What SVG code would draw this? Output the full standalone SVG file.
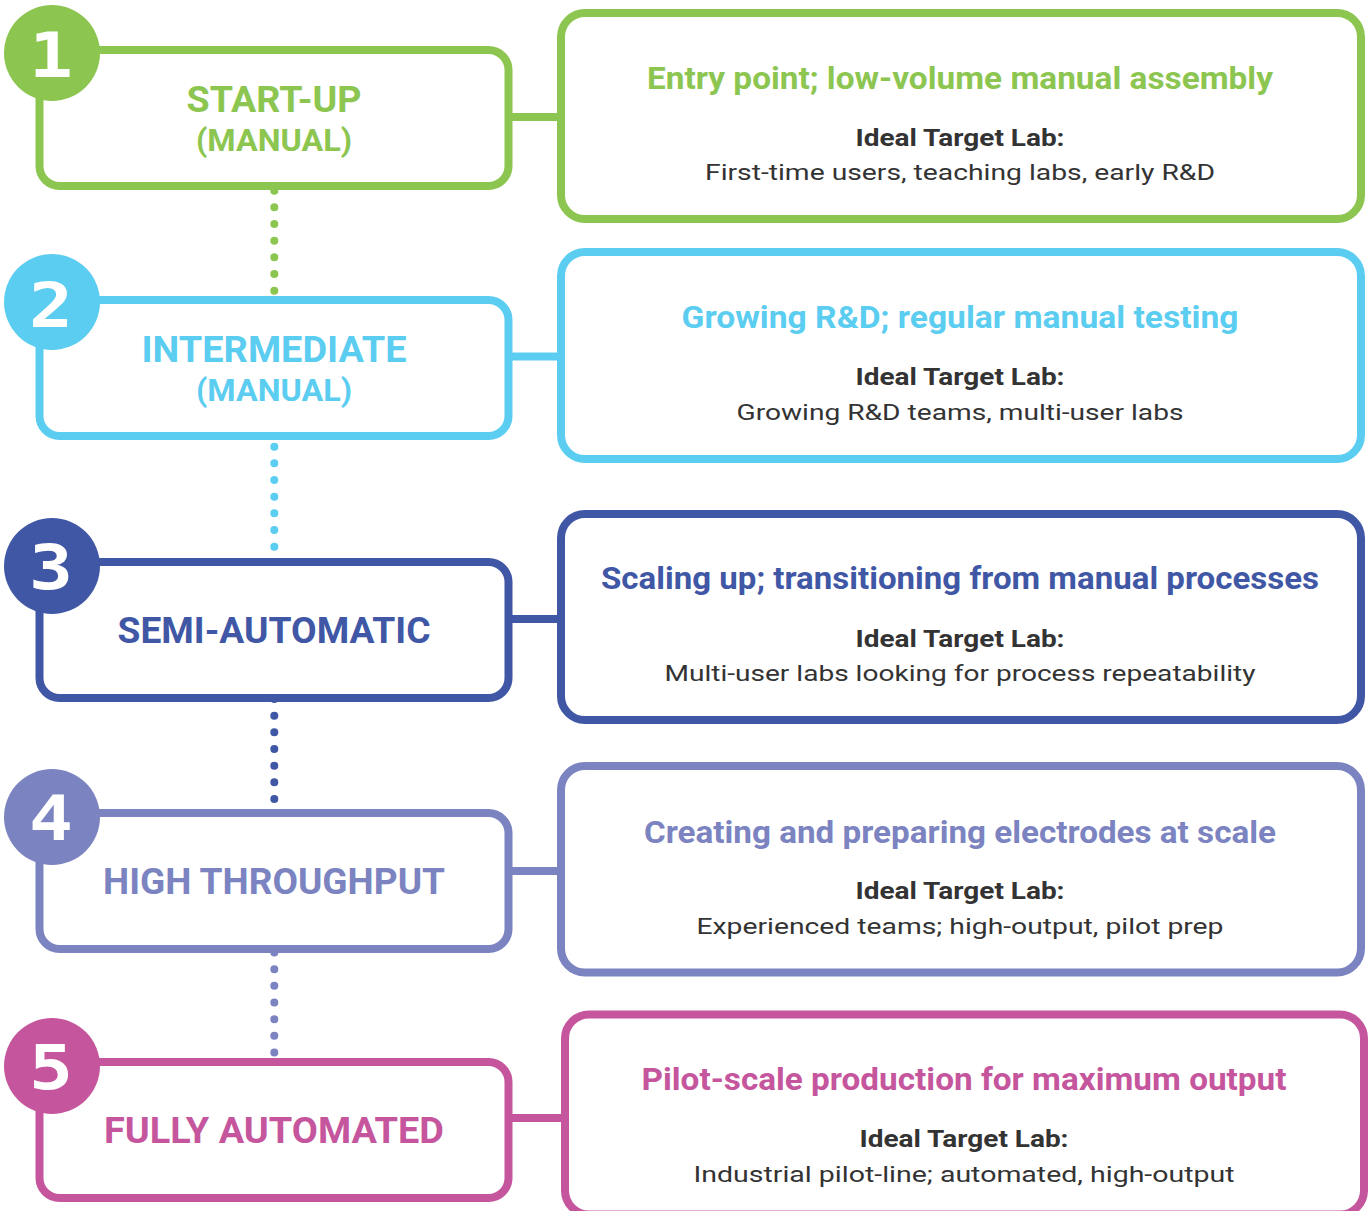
<svg xmlns="http://www.w3.org/2000/svg" width="1372" height="1211" viewBox="0 0 1372 1211">
<style>
.bx{fill:#fff;stroke-width:8}
.cn{stroke-width:8;fill:none}
.dot{stroke-width:8;stroke-linecap:round;stroke-dasharray:0 16.667;fill:none}
.num{font-family:"DejaVu Sans Mono","Liberation Mono",monospace;font-weight:bold;font-size:62px;fill:#fff}
.lt{font-family:Roboto,"Liberation Sans",sans-serif;font-weight:bold;font-size:36px;text-anchor:middle}
.lt2{font-family:Roboto,"Liberation Sans",sans-serif;font-weight:bold;font-size:32px;text-anchor:middle}
.rt{font-family:Roboto,"Liberation Sans",sans-serif;font-weight:bold;font-size:31px;text-anchor:middle}
.it{font-family:Roboto,"Liberation Sans",sans-serif;font-weight:bold;font-size:24px;text-anchor:middle;fill:#333}
.ds{font-family:Roboto,"Liberation Sans",sans-serif;font-size:22px;text-anchor:middle;fill:#333}
.g{stroke:#8cc651}.gf{fill:#8cc651}
.c{stroke:#5bcdf0}.cf{fill:#5bcdf0}
.n{stroke:#3f57a5}.nf{fill:#3f57a5}
.p{stroke:#7b83c1}.pf{fill:#7b83c1}
.m{stroke:#c5569d}.mf{fill:#c5569d}
</style>
<g id="connectors">
<line class="dot g" x1="274.3" y1="190.7" x2="274.3" y2="291.5"/>
<line class="dot c" x1="274.3" y1="446.7" x2="274.3" y2="547.5"/>
<line class="dot n" x1="274.3" y1="699" x2="274.3" y2="799.8"/>
<line class="dot p" x1="274.3" y1="952.5" x2="274.3" y2="1053.3"/>
<line class="cn g" x1="508" y1="117" x2="561" y2="117"/>
<line class="cn c" x1="508" y1="356.5" x2="561" y2="356.5"/>
<line class="cn n" x1="508" y1="619" x2="561" y2="619"/>
<line class="cn p" x1="508" y1="871" x2="561" y2="871"/>
<line class="cn m" x1="508" y1="1118" x2="565" y2="1118"/>
</g>
<g id="stage1">
<rect class="bx g" x="39.5" y="50" width="469" height="136" rx="20"/>
<circle class="gf" cx="52" cy="53" r="48"/>
<text class="num" x="29" y="77" textLength="44" lengthAdjust="spacingAndGlyphs">1</text>
<text class="lt gf" x="274" y="112.3" textLength="175" lengthAdjust="spacingAndGlyphs">START-UP</text>
<text class="lt2 gf" x="274" y="150.7" textLength="156" lengthAdjust="spacingAndGlyphs">(MANUAL)</text>
</g>
<g id="detail1">
<rect class="bx g" x="561" y="13" width="800" height="206" rx="24"/>
<text class="rt gf" x="960" y="89.3" textLength="626" lengthAdjust="spacingAndGlyphs">Entry point; low-volume manual assembly</text>
<text class="it" x="960" y="145.7" textLength="209" lengthAdjust="spacingAndGlyphs">Ideal Target Lab:</text>
<text class="ds" x="960" y="180" textLength="510" lengthAdjust="spacingAndGlyphs">First-time users, teaching labs, early R&amp;D</text>
</g>
<g id="stage2">
<rect class="bx c" x="39.5" y="300" width="469" height="136" rx="20"/>
<circle class="cf" cx="52" cy="302" r="48"/>
<text class="num" x="29" y="327" textLength="44" lengthAdjust="spacingAndGlyphs">2</text>
<text class="lt cf" x="274" y="362.3" textLength="265" lengthAdjust="spacingAndGlyphs">INTERMEDIATE</text>
<text class="lt2 cf" x="274" y="401" textLength="156" lengthAdjust="spacingAndGlyphs">(MANUAL)</text>
</g>
<g id="detail2">
<rect class="bx c" x="561" y="252" width="800" height="207" rx="24"/>
<text class="rt cf" x="960" y="328.3" textLength="557" lengthAdjust="spacingAndGlyphs">Growing R&amp;D; regular manual testing</text>
<text class="it" x="960" y="385" textLength="209" lengthAdjust="spacingAndGlyphs">Ideal Target Lab:</text>
<text class="ds" x="960" y="420" textLength="447" lengthAdjust="spacingAndGlyphs">Growing R&amp;D teams, multi-user labs</text>
</g>
<g id="stage3">
<rect class="bx n" x="39.5" y="562" width="469" height="136" rx="20"/>
<circle class="nf" cx="52" cy="566" r="48"/>
<text class="num" x="29" y="589" textLength="44" lengthAdjust="spacingAndGlyphs">3</text>
<text class="lt nf" x="274" y="643.3" textLength="313" lengthAdjust="spacingAndGlyphs">SEMI-AUTOMATIC</text>
</g>
<g id="detail3">
<rect class="bx n" x="561" y="514" width="800" height="206" rx="24"/>
<text class="rt nf" x="960" y="589.3" textLength="718" lengthAdjust="spacingAndGlyphs">Scaling up; transitioning from manual processes</text>
<text class="it" x="960" y="646.7" textLength="209" lengthAdjust="spacingAndGlyphs">Ideal Target Lab:</text>
<text class="ds" x="960" y="681" textLength="591" lengthAdjust="spacingAndGlyphs">Multi-user labs looking for process repeatability</text>
</g>
<g id="stage4">
<rect class="bx p" x="39.5" y="813" width="469" height="136" rx="20"/>
<circle class="pf" cx="52" cy="817" r="48"/>
<text class="num" x="29" y="840" textLength="44" lengthAdjust="spacingAndGlyphs">4</text>
<text class="lt pf" x="274" y="894" textLength="342" lengthAdjust="spacingAndGlyphs">HIGH THROUGHPUT</text>
</g>
<g id="detail4">
<rect class="bx p" x="561" y="766" width="800" height="206.5" rx="24"/>
<text class="rt pf" x="960" y="842.7" textLength="632" lengthAdjust="spacingAndGlyphs">Creating and preparing electrodes at scale</text>
<text class="it" x="960" y="899" textLength="209" lengthAdjust="spacingAndGlyphs">Ideal Target Lab:</text>
<text class="ds" x="960" y="934" textLength="527" lengthAdjust="spacingAndGlyphs">Experienced teams; high-output, pilot prep</text>
</g>
<g id="stage5">
<rect class="bx m" x="39.5" y="1062" width="469" height="136" rx="20"/>
<circle class="mf" cx="52" cy="1066" r="48"/>
<text class="num" x="29" y="1089" textLength="44" lengthAdjust="spacingAndGlyphs">5</text>
<text class="lt mf" x="274" y="1143" textLength="340" lengthAdjust="spacingAndGlyphs">FULLY AUTOMATED</text>
</g>
<g id="detail5">
<rect class="bx m" x="565" y="1014.5" width="799" height="200" rx="24"/>
<text class="rt mf" x="964" y="1090" textLength="645" lengthAdjust="spacingAndGlyphs">Pilot-scale production for maximum output</text>
<text class="it" x="964" y="1146.7" textLength="209" lengthAdjust="spacingAndGlyphs">Ideal Target Lab:</text>
<text class="ds" x="964" y="1181.7" textLength="541" lengthAdjust="spacingAndGlyphs">Industrial pilot-line; automated, high-output</text>
</g>
</svg>
